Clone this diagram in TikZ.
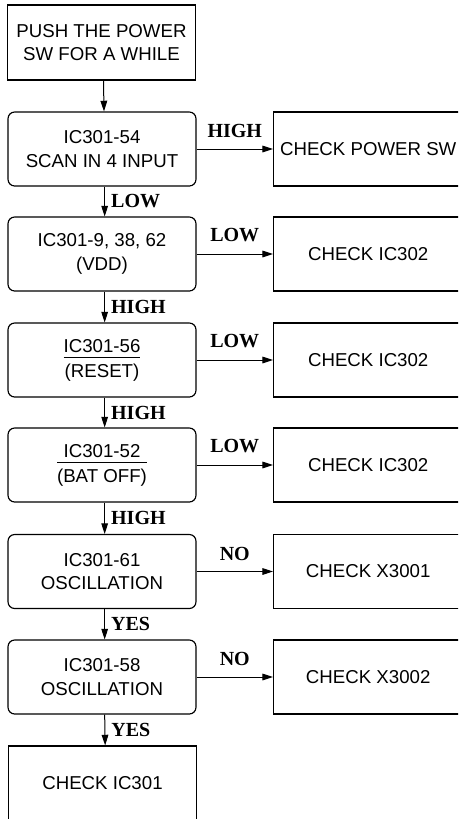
\documentclass[tikz,border=0pt]{standalone}
\usepackage{fontspec}
\setmainfont{Liberation Sans}
\newfontfamily\lblfont{Liberation Serif}
\usetikzlibrary{arrows.meta}
\setlength{\arrayrulewidth}{0.75pt}
\newcommand{\fracpair}[2]{{\renewcommand\arraystretch{0}\begin{tabular}{@{}c@{}}\rule[-3.5pt]{0pt}{10pt}#1\\\hline\rule{0pt}{14.5pt}#2\end{tabular}}}
\newcommand{\rpad}{\hspace*{8pt}}
\tikzset{
  box/.style={draw, line width=0.85pt, minimum width=141pt, minimum height=55.5pt,
    align=center, font=\fontsize{14}{17.5}\selectfont, inner sep=0pt},
  rbox/.style={box, rounded corners=5pt},
  chk/.style={box, minimum width=150pt, anchor=west},
  arr/.style={line width=0.75pt, -{Triangle[length=8pt,width=5pt]}},
  lbl/.style={font=\lblfont\bfseries\fontsize{15}{18}\selectfont, inner sep=0pt},
}
\begin{document}
\begin{tikzpicture}[x=0.75pt,y=-0.75pt]
\useasboundingbox (0,0) rectangle (458,819);
\begin{scope}
\clip (0,0) rectangle (458,819);
\node[box, minimum height=56.25pt] (n0) at (101.5,42.5) {PUSH THE POWER\\SW FOR A WHILE};
\node[rbox] (b1) at (102,149) {IC301-54\\SCAN IN 4 INPUT};
\node[rbox] (b2) at (102,254) {IC301-9, 38, 62\\(VDD)};
\node[rbox] (b3) at (102,360) {\fracpair{IC301-56}{(RESET)}};
\node[rbox] (b4) at (102,465) {\fracpair{IC301-52}{(BAT OFF)}};
\node[rbox] (b5) at (102,571.5) {IC301-61\\OSCILLATION};
\node[rbox] (b6) at (102,677) {IC301-58\\OSCILLATION};
\node[box] (n7) at (102.5,783) {CHECK IC301};

\node[chk] (r1) at (273,149) {CHECK POWER SW\rpad};
\node[chk] (r2) at (273,254) {CHECK IC302\rpad};
\node[chk] (r3) at (273,360) {CHECK IC302\rpad};
\node[chk] (r4) at (273,465) {CHECK IC302\rpad};
\node[chk] (r5) at (273,571.5) {CHECK X3001\rpad};
\node[chk] (r6) at (273,677) {CHECK X3002\rpad};

\draw[arr] ([xshift=1.5pt]n0.south) -- ([xshift=1.5pt]b1.north);
\draw[arr] ([xshift=2pt]b1.south) -- ([xshift=2pt]b2.north) node[lbl, midway, anchor=west, xshift=4.5pt]{LOW};
\draw[arr] ([xshift=2pt]b2.south) -- ([xshift=2pt]b3.north) node[lbl, midway, anchor=west, xshift=4.5pt]{HIGH};
\draw[arr] ([xshift=2pt]b3.south) -- ([xshift=2pt]b4.north) node[lbl, midway, anchor=west, xshift=4.5pt]{HIGH};
\draw[arr] ([xshift=2pt]b4.south) -- ([xshift=2pt]b5.north) node[lbl, midway, anchor=west, xshift=4.5pt]{HIGH};
\draw[arr] ([xshift=2pt]b5.south) -- ([xshift=2pt]b6.north) node[lbl, midway, anchor=west, xshift=4.5pt]{YES};
\draw[arr] ([xshift=2pt]b6.south) -- ([xshift=2pt]n7.north) node[lbl, midway, anchor=west, xshift=4.5pt]{YES};

\draw[arr] (b1.east) -- (r1.west) node[lbl, midway, yshift=13.5pt]{HIGH};
\draw[arr] (b2.east) -- (r2.west) node[lbl, midway, yshift=14.5pt]{LOW};
\draw[arr] (b3.east) -- (r3.west) node[lbl, midway, yshift=14.5pt]{LOW};
\draw[arr] (b4.east) -- (r4.west) node[lbl, midway, yshift=14.5pt]{LOW};
\draw[arr] (b5.east) -- (r5.west) node[lbl, midway, yshift=13.5pt]{NO};
\draw[arr] (b6.east) -- (r6.west) node[lbl, midway, yshift=13.5pt]{NO};
\end{scope}
\end{tikzpicture}
\end{document}
